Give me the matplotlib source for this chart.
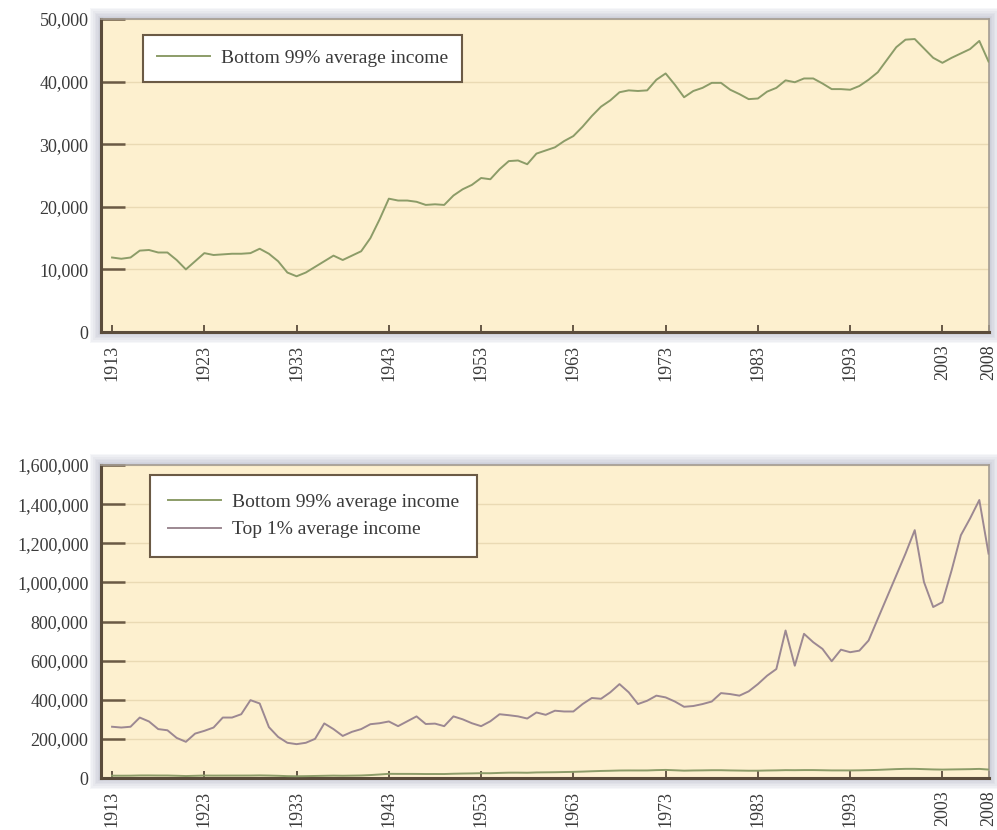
import matplotlib
matplotlib.use("Agg")
import matplotlib.pyplot as plt
from matplotlib.patches import Rectangle
from matplotlib.ticker import FuncFormatter

# average income, 1913-2008
years = list(range(1913, 2009))

bottom99 = [
    11900, 11700, 11900, 13000, 13100, 12700, 12700, 11500, 10000, 11300,
    12600, 12300, 12400, 12500, 12500, 12600, 13300, 12500, 11300, 9500,
    8900, 9500, 10400, 11300, 12200, 11500, 12200, 12900, 15000, 18000,
    21300, 21000, 21000, 20800, 20300, 20400, 20300, 21800, 22800, 23500,
    24600, 24400, 26000, 27300, 27400, 26800, 28500, 29000, 29500, 30500,
    31300, 32800, 34500, 36000, 37000, 38300, 38600, 38500, 38600, 40300,
    41300, 39500, 37500, 38500, 39000, 39800, 39800, 38700, 38000, 37200,
    37300, 38400, 39000, 40200, 39900, 40500, 40500, 39700, 38800, 38800,
    38700, 39300, 40300, 41500, 43500, 45500, 46700, 46800, 45300, 43800,
    43000, 43800, 44500, 45200, 46500, 43200,
]

top1 = [
    262000, 258000, 262000, 309000, 289000, 250000, 244000, 205000, 185000, 227000,
    241000, 258000, 309000, 309000, 326000, 398000, 381000, 260000, 210000, 180000,
    173000, 180000, 200000, 279000, 250000, 215000, 236000, 250000, 275000, 280000,
    289000, 265000, 290000, 315000, 276000, 278000, 265000, 315000, 300000, 280000,
    265000, 290000, 326000, 321000, 315000, 304000, 335000, 323000, 344000, 340000,
    340000, 378000, 409000, 405000, 438000, 480000, 438000, 378000, 395000, 421000,
    412000, 391000, 364000, 368000, 378000, 391000, 434000, 429000, 421000, 443000,
    480000, 523000, 557000, 754000, 574000, 737000, 694000, 660000, 597000, 656000,
    643000, 651000, 703000, 814000, 925000, 1036000, 1147000, 1267000, 1002000, 874000,
    899000, 1062000, 1241000, 1327000, 1421000, 1147000,
]

xticks = [1913, 1923, 1933, 1943, 1953, 1963, 1973, 1983, 1993, 2003, 2008]
label_bottom = "Bottom 99% average income"
label_top = "Top 1% average income"

bg = "#fdf0cf"
green = "#8c9c68"
purple = "#9c8892"
dark = "#5b4c3b"
textc = "#3a3a3a"

plt.rcParams["font.family"] = ["Liberation Serif", "DejaVu Serif"]

fig = plt.figure(figsize=(9.97, 8.30), dpi=100)
W, H = 997.0, 830.0

# axes rectangles in pixels: left, top, right, bottom
boxes = [(101, 19, 989, 332), (101, 465, 989, 778)]
ylims = [50000, 1600000]
ysteps = [10000, 200000]


def make_axes(box):
    l, t, r, b = box
    # soft shadow around the plotting area, kept behind the axes
    for i in range(7, 0, -1):
        e = i * 1.6
        fig.patches.append(Rectangle(((l - e) / W, 1 - (b + e) / H),
                                     (r - l + 2 * e) / W, (b - t + 2 * e) / H,
                                     transform=fig.transFigure, facecolor="#8d92aa",
                                     edgecolor="none", alpha=0.07, zorder=-5))
    ax = fig.add_axes([l / W, 1 - b / H, (r - l) / W, (b - t) / H])
    ax.set_zorder(2)
    ax.set_facecolor(bg)
    return ax


axes = [make_axes(b) for b in boxes]

for i, ax in enumerate(axes):
    ax.set_xlim(1911.8, 2008.05)
    ax.set_ylim(0, ylims[i])
    ax.set_yticks(range(0, ylims[i] + 1, ysteps[i]))
    ax.yaxis.set_major_formatter(FuncFormatter(lambda v, p: "{:,.0f}".format(v)))
    ax.set_xticks(xticks)
    ax.set_xticklabels([str(y) for y in xticks], rotation=90)
    ax.grid(axis="y", color="#eadab4", linewidth=1.0, zorder=1)
    ax.set_axisbelow(True)
    ax.tick_params(axis="y", direction="in", length=17, width=1.8, color="#6b5a45",
                   labelsize=13, labelcolor=textc, pad=9)
    ax.tick_params(axis="x", direction="in", length=5, width=1.3, color=dark,
                   labelsize=13, labelcolor=textc, pad=9)
    for s in ("left", "bottom"):
        ax.spines[s].set_color(dark)
        ax.spines[s].set_linewidth(2.2)
    for s in ("top", "right"):
        ax.spines[s].set_color("#a49c92")
        ax.spines[s].set_linewidth(1.2)

ax1, ax2 = axes

ax1.plot(years, bottom99, color=green, linewidth=1.4, label=label_bottom, zorder=3)
leg1 = ax1.legend(loc="upper left", bbox_to_anchor=(0.047, 0.949), borderaxespad=0,
                  fontsize=14, handlelength=2.7, handletextpad=0.55, borderpad=0.75,
                  fancybox=False, framealpha=1, edgecolor="#6b5a45")
leg1.get_frame().set_linewidth(1.5)

ax2.plot(years, bottom99, color=green, linewidth=1.4, label=label_bottom, zorder=3)
ax2.plot(years, top1, color=purple, linewidth=1.4, label=label_top, zorder=3)
leg2 = ax2.legend(loc="upper left", bbox_to_anchor=(0.055, 0.968), borderaxespad=0,
                  fontsize=14, handlelength=2.7, handletextpad=0.55, borderpad=0.95,
                  labelspacing=0.5, fancybox=False, framealpha=1, edgecolor="#6b5a45")
leg2.get_frame().set_linewidth(1.5)

for leg in (leg1, leg2):
    for t in leg.get_texts():
        t.set_color(textc)

fig.savefig("out.png", dpi=100, facecolor="white")
